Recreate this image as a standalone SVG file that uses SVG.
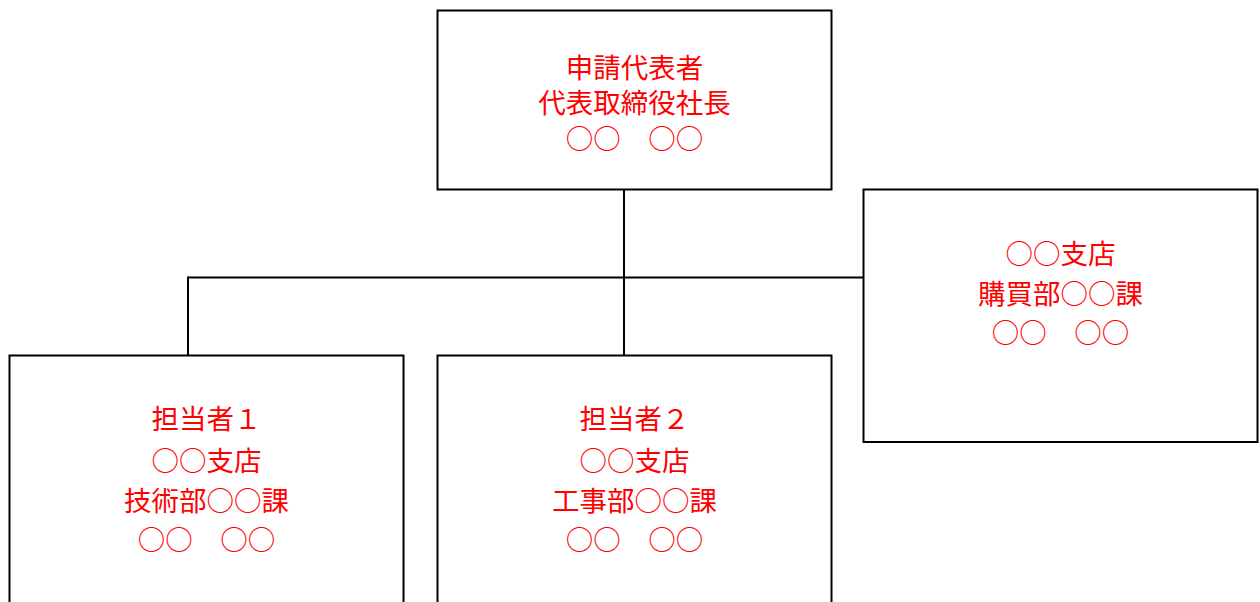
<svg xmlns="http://www.w3.org/2000/svg" width="1260" height="602" viewBox="0 0 1260 602">
<style>
.box{fill:#fff;stroke:#000;stroke-width:2}
.lbl{fill:#ff0000;font-family:"Noto Sans CJK JP","Noto Sans",sans-serif;font-size:27.5px;text-anchor:middle}
.conn{fill:none;stroke:#000;stroke-width:2}
</style>
<rect width="1260" height="602" fill="#fff"/>
<g id="connectors">
<line class="conn" x1="624" y1="189" x2="624" y2="355.5"/>
<line class="conn" x1="188" y1="277.5" x2="864" y2="277.5"/>
<line class="conn" x1="188" y1="276.5" x2="188" y2="355.5"/>
</g>
<g id="node-rep">
<rect class="box" x="437.5" y="10.5" width="394" height="179"/>
<text class="lbl" x="634.5" y="77.5">申請代表者</text>
<text class="lbl" x="634.5" y="113">代表取締役社長</text>
<text class="lbl" x="634.5" y="149">○○　○○</text>
</g>
<g id="node-purchase">
<rect class="box" x="863.5" y="189.5" width="394" height="252.5"/>
<text class="lbl" x="1060.5" y="264">○○支店</text>
<text class="lbl" x="1060.5" y="303.5">購買部○○課</text>
<text class="lbl" x="1060.5" y="343">○○　○○</text>
</g>
<g id="node-staff1">
<rect class="box" x="9.5" y="355.5" width="394" height="260"/>
<text class="lbl" x="206.5" y="429">担当者１</text>
<text class="lbl" x="206.5" y="470.5">○○支店</text>
<text class="lbl" x="206.5" y="511">技術部○○課</text>
<text class="lbl" x="206.5" y="549.5">○○　○○</text>
</g>
<g id="node-staff2">
<rect class="box" x="437.5" y="355.5" width="394" height="260"/>
<text class="lbl" x="634.5" y="429">担当者２</text>
<text class="lbl" x="634.5" y="470.5">○○支店</text>
<text class="lbl" x="634.5" y="511">工事部○○課</text>
<text class="lbl" x="634.5" y="549.5">○○　○○</text>
</g>
</svg>
